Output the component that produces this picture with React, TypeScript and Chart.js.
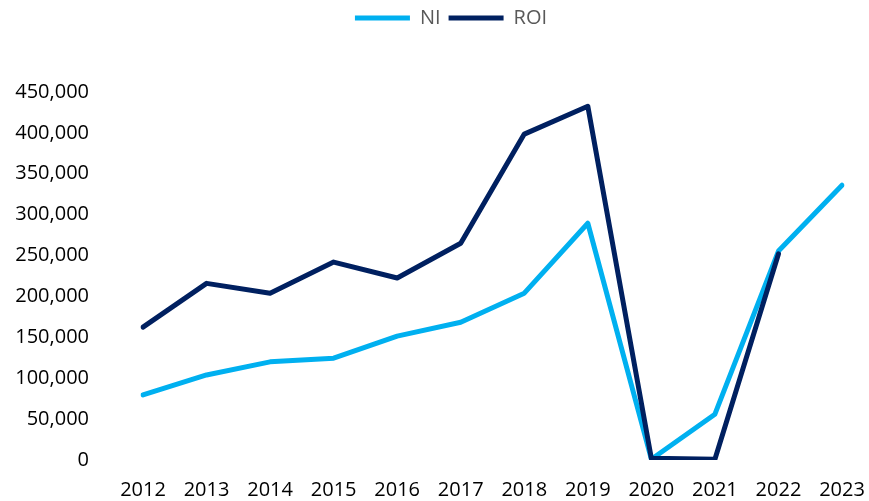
import React, { useEffect, useRef } from "react";
import { Chart, registerables } from "chart.js";

Chart.register(...registerables);

const years = ["2012", "2013", "2014", "2015", "2016", "2017", "2018", "2019", "2020", "2021", "2022", "2023"];
const niValues = [79500, 104000, 120000, 124500, 151500, 168500, 204000, 289500, 1000, 56000, 255500, 336000];
const roiValues = [162500, 216000, 204000, 242000, 222500, 265000, 398500, 432500, 2000, 1000, 252000, null];
const yTicks = { min: 0, max: 450000, step: 50000 };

const legendSpacing = {
  id: "legendSpacing",
  beforeInit(chart: any) {
    const orig = chart.legend.fit;
    chart.legend.fit = function () {
      orig.bind(chart.legend)();
      this.height = 92;
    };
  },
  afterLayout(chart: any) {
    if (chart.legend) {
      chart.legend.left += 30;
      chart.legend.right += 30;
    }
  },
};

const zeroPad = (s: any) => {
  s.paddingLeft = 0;
  s.paddingRight = 0;
  s.paddingTop = 0;
  s.paddingBottom = 0;
};

export default function App() {
  const ref = useRef<HTMLCanvasElement>(null);
  useEffect(() => {
    if (!ref.current) return;
    const font = { family: "'Open Sans', sans-serif", size: 20 };
    const chart = new Chart(ref.current, {
      type: "line",
      data: {
        labels: years,
        datasets: [
          {
            label: "NI",
            data: niValues,
            borderColor: "#00B0F0",
            backgroundColor: "#00B0F0",
            borderWidth: 5,
            pointRadius: 0,
            borderCapStyle: "round",
            borderJoinStyle: "round",
            tension: 0,
            order: 2,
          },
          {
            label: "ROI",
            data: roiValues,
            borderColor: "#002060",
            backgroundColor: "#002060",
            borderWidth: 5,
            pointRadius: 0,
            borderCapStyle: "round",
            borderJoinStyle: "round",
            tension: 0,
            order: 1,
          },
        ],
      },
      plugins: [legendSpacing],
      options: {
        animation: false,
        responsive: false,
        maintainAspectRatio: false,
        layout: { padding: { left: 0, right: 27, top: 0, bottom: 0 } },
        plugins: {
          legend: {
            position: "top",
            align: "center",
            labels: {
              usePointStyle: true,
              pointStyle: "line",
              pointStyleWidth: 55,
              boxHeight: 5,
              padding: 8,
              color: "#595959",
              font,
              sort: (a: any, b: any) => a.datasetIndex - b.datasetIndex,
            },
          },
          tooltip: { enabled: false },
        },
        scales: {
          x: {
            offset: false,
            grid: { display: false },
            border: { display: false },
            ticks: { color: "#000", font, padding: 10, maxRotation: 0, autoSkip: false },
            afterFit: (s: any) => {
              s.height = 41;
              zeroPad(s);
            },
          },
          y: {
            min: yTicks.min,
            max: yTicks.max,
            grid: { display: false },
            border: { display: false },
            ticks: {
              stepSize: yTicks.step,
              color: "#000",
              font,
              padding: 46,
              callback: (v: any) => Number(v).toLocaleString("en-US"),
            },
            afterFit: (s: any) => {
              s.width = 143;
              zeroPad(s);
            },
          },
        },
      },
    });
    return () => chart.destroy();
  }, []);
  return (
    <div style={{ position: "fixed", left: 0, top: 0, width: 869, height: 501, background: "#fff" }}>
      <canvas ref={ref} width={869} height={501} style={{ width: 869, height: 501 }} />
    </div>
  );
}
